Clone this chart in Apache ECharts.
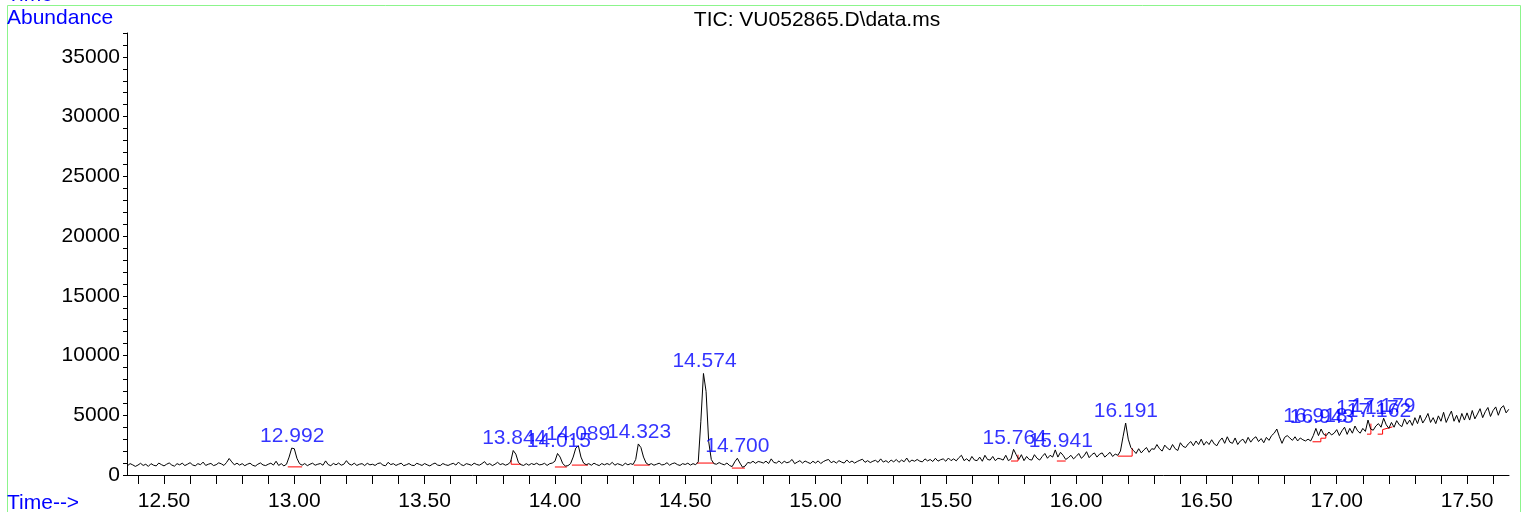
<!DOCTYPE html>
<html>
<head>
<meta charset="utf-8">
<script src="https://cdn.jsdelivr.net/npm/echarts@6/dist/echarts.min.js"></script>
<style>
html,body{margin:0;padding:0;background:#fff;}
#chart{width:1526px;height:512px;}
</style>
</head>
<body>
<div id="chart"></div>
<script>
// ---- data ----
const titleText = 'TIC: VU052865.D\\data.ms';
const signalRowStart = 12.3;   // each row covers 0.1 min, 0.01 min per value
const signalStep = 0.01;
const abundanceRows = [
  [null,null,null,null,null,null, 780, 950, 850, 720],              // 12.3
  [830, 980, 800, 900, 720, 950, 820, 760, 1000, 870],              // 12.4
  [760, 900, 1010, 830, 740, 950, 850, 990, 790, 900],              // 12.5
  [1030, 840, 770, 950, 860, 1080, 800, 900, 970, 790],             // 12.6
  [860, 1020, 930, 800, 1050, 1380, 1100, 850, 990, 830],           // 12.7
  [950, 780, 900, 990, 820, 740, 900, 1010, 840, 790],              // 12.8
  [900, 990, 830, 1150, 800, 950, 760, 900, 1500, 2250],            // 12.9
  [2200, 1400, 950, 820, 960, 780, 900, 990, 820, 900],             // 13.0
  [960, 820, 1180, 870, 780, 970, 850, 1000, 820, 900],             // 13.1
  [1200, 920, 830, 990, 800, 900, 950, 790, 980, 850],              // 13.2
  [900, 800, 960, 1010, 830, 770, 1060, 870, 950, 800],             // 13.3
  [900, 990, 780, 860, 960, 820, 790, 980, 890, 800],               // 13.4
  [960, 850, 760, 900, 1000, 830, 790, 960, 860, 800],              // 13.5
  [900, 980, 830, 1080, 860, 790, 950, 890, 810, 990],              // 13.6
  [880, 820, 950, 1120, 850, 950, 790, 900, 1060, 870],             // 13.7
  [950, 820, 900, 1100, 2050, 1750, 1050, 860, 800, 950],           // 13.8
  [820, 960, 870, 990, 850, 880, 980, 800, 950, 1000],              // 13.9
  [1150, 1800, 1500, 950, 750, 780, 950, 1500, 2250, 2450],         // 14.0
  [1500, 1000, 860, 950, 820, 990, 870, 790, 960, 850],             // 14.1
  [960, 860, 1060, 820, 950, 870, 790, 990, 850, 950],              // 14.2
  [880, 1300, 2600, 2300, 1500, 1000, 860, 950, 820, 900],          // 14.3
  [990, 840, 880, 1030, 820, 950, 1010, 870, 800, 950],             // 14.4
  [880, 990, 830, 950, 860, 1100, 4500, 8500, 7000, 2800],          // 14.5
  [1300, 950, 900, 1040, 930, 850, 1000, 800, 700, 1100],           // 14.6
  [1400, 1000, 650, 750, 1050, 1000, 1150, 980, 1130, 1080],        // 14.7
  [1000, 1160, 960, 1350, 1050, 1000, 1180, 960, 1150, 1020],       // 14.8
  [1100, 1300, 950, 1080, 1200, 1000, 1170, 1060, 960, 1150],       // 14.9
  [1000, 1180, 960, 1120, 1230, 1300, 1030, 1150, 1000, 1200],      // 15.0
  [1080, 1000, 1260, 1040, 1170, 1000, 1130, 1230, 1320, 1060],     // 15.1
  [1200, 1040, 1150, 1230, 1060, 1350, 1080, 1200, 1040, 1250],     // 15.2
  [1100, 1300, 1060, 1250, 1110, 1420, 1080, 1250, 1150, 1300],     // 15.3
  [1160, 1100, 1350, 1180, 1300, 1130, 1400, 1160, 1280, 1350],     // 15.4
  [1150, 1420, 1200, 1350, 1180, 1450, 1650, 1200, 1360, 1150],     // 15.5
  [1550, 1250, 1200, 1500, 1150, 1650, 1300, 1250, 1550, 1200],     // 15.6
  [1400, 1350, 1250, 1650, 1200, 1350, 2150, 1700, 1300, 1700],     // 15.7
  [1200, 1550, 1300, 1250, 1700, 1400, 1250, 1550, 1800, 1400],     // 15.8
  [1650, 1500, 2100, 1500, 1900, 1650, 1300, 1450, 1650, 1350],     // 15.9
  [1550, 1800, 1400, 1600, 1950, 1450, 1700, 1850, 1500, 1750],     // 16.0
  [1850, 1500, 1700, 1900, 1550, 1750, 1650, 2000, 3200, 4350],     // 16.1
  [3000, 2300, 2050, 1800, 2200, 1850, 2100, 2300, 1900, 2200],     // 16.2
  [2150, 2550, 2200, 2000, 2500, 2250, 2100, 2550, 2200, 2050],     // 16.3
  [2700, 2400, 2300, 2600, 2800, 2450, 2850, 2550, 3000, 2500],     // 16.4
  [2800, 2550, 2950, 2600, 2450, 2850, 3100, 2650, 3200, 2750],     // 16.5
  [2650, 3100, 2550, 2850, 3000, 2650, 3150, 2750, 3050, 3200],     // 16.6
  [2800, 3050, 2700, 3150, 2900, 3300, 3500, 3850, 3200, 2650],     // 16.7
  [3150, 3300, 3100, 2900, 3200, 2850, 3100, 2950, 2850, 3000],     // 16.8
  [2850, 3300, 3900, 3300, 3850, 3400, 3300, 3600, 3350, 3500],     // 16.9
  [3800, 3300, 3700, 4000, 3400, 3900, 3500, 4100, 3700, 3500],     // 17.0
  [3900, 3650, 4600, 3850, 3750, 4100, 4300, 4000, 4750, 4200],     // 17.1
  [3900, 4400, 4000, 4550, 4200, 4050, 4700, 4250, 4600, 4150],     // 17.2
  [4800, 4300, 5000, 4350, 4700, 5150, 4400, 4800, 4300, 4950],     // 17.3
  [4500, 5250, 4400, 4900, 5350, 4500, 5000, 4400, 5150, 4600],     // 17.4
  [5200, 4600, 5400, 4700, 5100, 5550, 4800, 5300, 5650, 4900],     // 17.5
  [5400, 5700, 5000, 5600, 5800, 5200, 5500]                         // 17.6
];

const peakTimes = [12.992, 13.844, 14.015, 14.089, 14.323, 14.574, 14.700, 15.764, 15.941, 16.191, 16.918, 16.943, 17.117, 17.162, 17.179];
const peakApex  = [2250, 2050, 1800, 2450, 2600, 8500, 1400, 2100, 1850, 4350, 3900, 3850, 4600, 4300, 4750];

// integration baselines (red marks), as [time, abundance]
const integrationMarks = [
  [[12.975, 680], [13.030, 680]],
  [[13.832, 1250], [13.832, 900], [13.870, 900]],
  [[14.000, 670], [14.046, 670]],
  [[14.065, 830], [14.127, 830]],
  [[14.303, 830], [14.364, 830]],
  [[14.544, 1000], [14.610, 1000]],
  [[14.679, 580], [14.729, 580]],
  [[15.750, 1170], [15.777, 1170], [15.777, 1700]],
  [[15.926, 1170], [15.960, 1170]],
  [[16.160, 1580], [16.215, 1580], [16.215, 2250]],
  [[16.907, 2780], [16.939, 2780], [16.939, 3080], [16.958, 3080], [16.958, 3500]],
  [[17.116, 3420], [17.131, 3420], [17.131, 4300]],
  [[17.157, 3420], [17.176, 3420], [17.176, 3800], [17.214, 4030]]
];

const xMin = 12.358, xMax = 17.661;
const yMin = 0, yMax = 37000;
const xLabelValues = [12.5, 13.0, 13.5, 14.0, 14.5, 15.0, 15.5, 16.0, 16.5, 17.0, 17.5];
const xTickValues = [12.4,12.5,12.6,12.7,12.8,12.9,13.0,13.1,13.2,13.3,13.4,13.5,13.6,13.7,13.8,13.9,
  14.0,14.1,14.2,14.3,14.4,14.5,14.6,14.7,14.8,14.9,15.0,15.1,15.2,15.3,15.4,15.5,15.6,15.7,15.8,15.9,
  16.0,16.1,16.2,16.3,16.4,16.5,16.6,16.7,16.8,16.9,17.0,17.1,17.2,17.3,17.4,17.5,17.6];
const yLabelValues = [0, 5000, 10000, 15000, 20000, 25000, 30000, 35000];
const yTickValues = [0,1000,2000,3000,4000,5000,6000,7000,8000,9000,10000,11000,12000,13000,14000,15000,
  16000,17000,18000,19000,20000,21000,22000,23000,24000,25000,26000,27000,28000,29000,30000,31000,32000,
  33000,34000,35000,36000,37000];

// ---- build ----
const signal = [];
abundanceRows.forEach((row, r) => {
  row.forEach((v, j) => {
    if (v === null) return;
    const t = Math.round((signalRowStart + r * 0.1 + j * signalStep) * 1000) / 1000;
    signal.push([t, v]);
  });
});

const FONT = "'Liberation Sans', Arial, Helvetica, sans-serif";
const BLUE = '#0000ff';

const series = [{
  type: 'line',
  data: signal,
  showSymbol: false,
  symbol: 'none',
  lineStyle: { color: '#000', width: 1 },
  z: 3,
  silent: true
}];
integrationMarks.forEach(seg => {
  series.push({
    type: 'line', data: seg, showSymbol: false, symbol: 'none',
    lineStyle: { color: '#ff0000', width: 1 }, z: 2, silent: true
  });
});
series.push({
  type: 'scatter',
  data: peakTimes.map((t, i) => [t, peakApex[i]]),
  symbolSize: 1,
  itemStyle: { color: 'rgba(0,0,0,0)' },
  label: {
    show: true, position: 'top', distance: 1,
    formatter: p => p.value[0].toFixed(3),
    color: BLUE, fontSize: 21, fontFamily: FONT
  },
  z: 5, silent: true
});

const chart = echarts.init(document.getElementById('chart'), null, { renderer: 'canvas' });
chart.setOption({
  animation: false,
  backgroundColor: '#fff',
  grid: { left: 127, right: 17, top: 33, bottom: 37, containLabel: false, outerBoundsMode: 'none' },
  xAxis: {
    type: 'value', min: xMin, max: xMax,
    axisLine: { show: true, lineStyle: { color: '#000', width: 1 } },
    axisTick: { show: true, inside: false, length: 9, customValues: xTickValues, lineStyle: { color: '#000' } },
    axisLabel: {
      show: true, customValues: xLabelValues, margin: 16,
      formatter: v => Number(v).toFixed(2),
      color: '#000', fontSize: 21, fontFamily: FONT
    },
    splitLine: { show: false }
  },
  yAxis: {
    type: 'value', min: yMin, max: yMax,
    axisLine: { show: true, lineStyle: { color: '#000', width: 1 } },
    axisTick: { show: true, inside: false, length: 4, customValues: yTickValues, lineStyle: { color: '#000' } },
    axisLabel: {
      show: true, customValues: yLabelValues, margin: 7,
      formatter: v => String(v),
      color: '#000', fontSize: 21, fontFamily: FONT
    },
    splitLine: { show: false }
  },
  graphic: [
    { type: 'rect', shape: { x: 7.5, y: 5.5, width: 1513, height: 530 },
      style: { fill: 'none', stroke: '#8cf58c', lineWidth: 1 }, silent: true, z: 0 },
    { type: 'text', x: 7, y: -5, style: { text: 'Time-->', font: '21px ' + FONT, fill: BLUE, align: 'left', verticalAlign: 'middle' } },
    { type: 'text', x: 7, y: 18, style: { text: 'Abundance', font: '21px ' + FONT, fill: BLUE, align: 'left', verticalAlign: 'middle' } },
    { type: 'text', x: 817, y: 20, style: { text: titleText, font: '21px ' + FONT, fill: '#000', align: 'center', verticalAlign: 'middle' } },
    { type: 'text', x: 7, y: 503, style: { text: 'Time-->', font: '21px ' + FONT, fill: BLUE, align: 'left', verticalAlign: 'middle' } }
  ],
  series: series
});
</script>
</body>
</html>
